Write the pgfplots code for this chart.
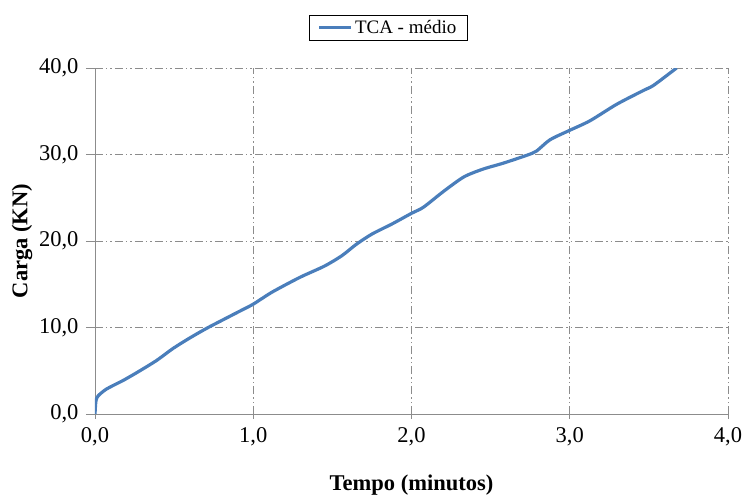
\documentclass[border=0pt]{standalone}
\usepackage{pgfplots}
\pgfplotsset{compat=1.18}
\usepackage{fontspec}
\setmainfont{Liberation Serif}
\definecolor{linhaazul}{HTML}{4A7EBB}
\definecolor{eixocinza}{HTML}{8C8C8C}

\begin{document}
\begin{tikzpicture}
\begin{axis}[
    at={(0,0)}, anchor=south west,
    scale only axis,
    width=633pt, height=346pt,
    xmin=0, xmax=4, ymin=0, ymax=40,
    xtick={0,1,2,3,4}, ytick={0,10,20,30,40},
    axis x line*=bottom, axis y line*=left,
    axis line style={-, eixocinza, line width=0.8pt},
    grid=major,
    major grid style={eixocinza, line width=0.8pt, dash pattern=on 8pt off 3pt on 1.5pt off 3pt on 1.5pt off 3pt},
    x tick style={eixocinza, line width=0.8pt}, y tick style={eixocinza, line width=0.8pt},
    xtick align=center, ytick align=outside,
    major tick length=9pt,
    /pgf/number format/.cd, use comma, fixed, fixed zerofill, precision=1, assume math mode=true,
    /pgfplots/.cd,
    tick label style={font=\fontsize{22.5}{24}\selectfont},
    xticklabel style={yshift=-6pt},
    yticklabel style={xshift=-4pt},
    xlabel={\textbf{Tempo (minutos)}},
    ylabel={\textbf{Carga (KN)}},
    label style={font=\fontsize{22.5}{25}\selectfont},
    xlabel style={at={(rel axis cs:0.5,0)}, anchor=center, yshift=-71pt},
    ylabel style={at={(rel axis cs:0,0.5)}, anchor=center, yshift=73pt},
    legend style={at={(rel axis cs:0.463,1.117)}, anchor=center, draw=black, line width=0.6pt,
        font=\fontsize{19}{21}\selectfont, inner xsep=9pt, inner ysep=3pt},
    legend image code/.code={\draw[#1, line width=3.2pt] (0pt,0pt) -- (32pt,0pt);},
    clip=true,
]
\addplot[linhaazul, line width=3.2pt, smooth, tension=0.45] coordinates {
(0,0) (0.006,1.5) (0.02,2.1) (0.074,2.9) (0.18,3.9) (0.284,5.0) (0.39,6.2)
(0.495,7.6) (0.6,8.8) (0.705,9.9) (0.81,10.9) (0.916,11.9) (1.0,12.7)
(1.12,14.1) (1.295,15.8) (1.45,17.1) (1.56,18.3) (1.65,19.6) (1.75,20.8)
(1.88,22.0) (2.0,23.2) (2.075,23.9) (2.2,25.7) (2.33,27.4) (2.45,28.3) (2.58,29.0)
(2.727,29.9) (2.79,30.4) (2.875,31.7) (3.0,32.8) (3.128,33.9) (3.296,35.8)
(3.465,37.4) (3.53,38.0) (3.675,40.0)
};
\legend{TCA - médio}
\end{axis}
\pgfresetboundingbox
\path (-95pt,-82pt) rectangle (650pt,414pt);
\end{tikzpicture}
\end{document}
